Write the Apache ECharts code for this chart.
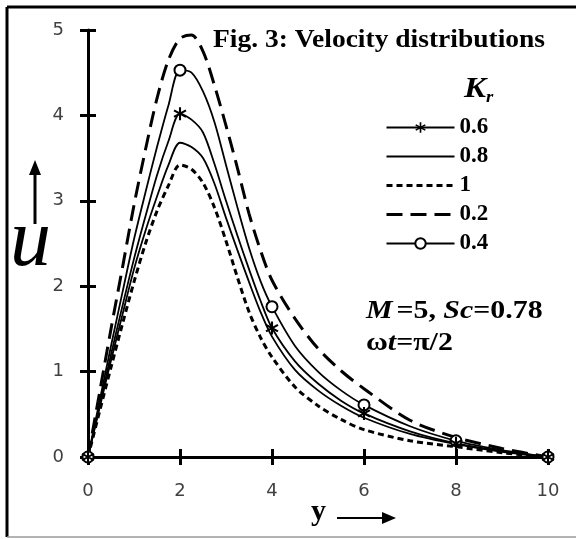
<!DOCTYPE html>
<html>
<head>
<meta charset="utf-8">
<script src="https://cdn.jsdelivr.net/npm/echarts@6/dist/echarts.min.js"></script>
<style>
html, body { margin: 0; padding: 0; background: #fff; }
#chart { width: 576px; height: 539px; }
</style>
</head>
<body>
<div id="chart"></div>
<script>
const yPos = [0, 0.25, 0.5, 0.75, 1, 1.25, 1.5, 1.75, 2, 2.25, 2.5, 2.75, 3, 3.25, 3.5, 3.75, 4,
  4.5, 5, 5.5, 6, 7, 8, 9, 10];
// marker positions (every 2)
const markAt = [0, 2, 4, 6, 8, 10];

// velocity u for each Kr
const kr02 = [0, 0.75, 1.5, 2.22, 2.95, 3.6, 4.2, 4.65, 4.9, 4.94, 4.75, 4.35, 3.88, 3.38, 2.85, 2.42, 2.07,
  1.62, 1.27, 1.01, 0.8, 0.43, 0.23, 0.1, 0];
const kr04 = [0, 0.65, 1.3, 1.93, 2.55, 3.1, 3.63, 4.12, 4.53, 4.5, 4.28, 3.92, 3.42, 2.92, 2.45, 2.06, 1.76,
  1.3, 1.0, 0.78, 0.61, 0.36, 0.19, 0.08, 0];
const kr06 = [0, 0.6, 1.2, 1.77, 2.32, 2.82, 3.3, 3.7, 4.02, 3.95, 3.8, 3.43, 3.0, 2.59, 2.2, 1.83, 1.51,
  1.12, 0.86, 0.66, 0.51, 0.3, 0.16, 0.07, 0];
const kr08 = [0, 0.57, 1.13, 1.67, 2.2, 2.65, 3.05, 3.42, 3.68, 3.63, 3.5, 3.2, 2.8, 2.42, 2.05, 1.7, 1.41,
  1.02, 0.78, 0.6, 0.46, 0.27, 0.15, 0.06, 0];
const kr10 = [0, 0.53, 1.05, 1.56, 2.05, 2.5, 2.88, 3.18, 3.42, 3.37, 3.21, 2.92, 2.53, 2.1, 1.7, 1.4, 1.17,
  0.82, 0.6, 0.44, 0.32, 0.19, 0.12, 0.05, 0];

const xTicks = [0, 2, 4, 6, 8, 10];
const uTicks = [0, 1, 2, 3, 4, 5];

const starPath = 'path://M8.5,0L11.5,0L11.5,20L8.5,20Z M0.59,6.3L2.09,3.7L19.41,13.7L17.91,16.3Z M0.59,13.7L17.91,3.7L19.41,6.3L2.09,16.3Z';

function toData(vals, withMarks) {
  return yPos.map(function (x, i) {
    const item = { value: [x, vals[i]] };
    if (!withMarks || markAt.indexOf(x) < 0) item.symbol = 'none';
    return item;
  });
}

const serifB = 'Liberation Serif';

const myChart = echarts.init(document.getElementById('chart'));

const tickStyle = { color: '#000', width: 3 };

const option = {
  animation: false,
  grid: { left: 88, right: 28, top: 30, bottom: 82 },
  xAxis: [
    {
      type: 'value', min: xTicks[0], max: xTicks[xTicks.length - 1], interval: 2, position: 'bottom',
      axisLine: { onZero: false, lineStyle: { color: '#000', width: 3 } },
      axisTick: { length: 8, lineStyle: tickStyle },
      axisLabel: { margin: 25, fontSize: 18, color: '#404040', fontFamily: 'DejaVu Sans' },
      splitLine: { show: false }
    },
    {
      type: 'value', min: xTicks[0], max: xTicks[xTicks.length - 1], interval: 2, position: 'bottom',
      axisLine: { show: false },
      axisTick: { inside: true, length: 8, lineStyle: tickStyle },
      axisLabel: { show: false },
      splitLine: { show: false }
    }
  ],
  yAxis: [
    {
      type: 'value', min: uTicks[0], max: uTicks[uTicks.length - 1], interval: 1, position: 'left',
      axisLine: { onZero: false, lineStyle: { color: '#000', width: 3 } },
      axisTick: { length: 8, lineStyle: tickStyle },
      axisLabel: { margin: 24, fontSize: 18, color: '#404040', fontFamily: 'DejaVu Sans' },
      splitLine: { show: false }
    },
    {
      type: 'value', min: uTicks[0], max: uTicks[uTicks.length - 1], interval: 1, position: 'left',
      axisLine: { show: false },
      axisTick: { inside: true, length: 8, lineStyle: tickStyle },
      axisLabel: { show: false },
      splitLine: { show: false }
    }
  ],
  legend: {
    orient: 'vertical',
    left: 385,
    top: 116,
    padding: 0,
    itemWidth: 68,
    itemHeight: 13,
    itemGap: 6,
    selectedMode: false,
    textStyle: { fontFamily: serifB, fontWeight: 'bold', fontSize: 23, color: '#000' },
    lineStyle: { width: 'inherit' },
    data: [
      { name: '0.6' },
      { name: '0.8', itemStyle: { opacity: 0 } },
      { name: '1', itemStyle: { opacity: 0 } },
      { name: '0.2', itemStyle: { opacity: 0 } },
      { name: '0.4' }
    ]
  },
  series: [
    {
      name: '0.2', type: 'line', smooth: 0.3, symbol: 'none',
      lineStyle: { color: '#000', width: 3, type: [16, 8] },
      itemStyle: { color: '#000' },
      data: toData(kr02, false)
    },
    {
      name: '0.4', type: 'line', smooth: 0.3, symbol: 'emptyCircle', symbolSize: 11,
      lineStyle: { color: '#000', width: 1.8 },
      itemStyle: { color: '#000', borderWidth: 1.5 },
      data: toData(kr04, true)
    },
    {
      name: '0.6', type: 'line', smooth: 0.3, symbol: starPath, symbolSize: 13,
      lineStyle: { color: '#000', width: 1.8 },
      itemStyle: { color: '#000' },
      data: toData(kr06, true)
    },
    {
      name: '0.8', type: 'line', smooth: 0.3, symbol: 'none',
      lineStyle: { color: '#000', width: 1.8 },
      itemStyle: { color: '#000' },
      data: toData(kr08, false)
    },
    {
      name: '1', type: 'line', smooth: 0.3, symbol: 'none',
      lineStyle: { color: '#000', width: 3, type: [6, 4] },
      itemStyle: { color: '#000' },
      data: toData(kr10, false)
    }
  ],
  graphic: [
    // frame
    { type: 'line', shape: { x1: 7, y1: 7, x2: 576, y2: 7 }, style: { stroke: '#000', lineWidth: 3 } },
    { type: 'line', shape: { x1: 7, y1: 7, x2: 7, y2: 537 }, style: { stroke: '#000', lineWidth: 3 } },
    { type: 'line', shape: { x1: 7, y1: 537, x2: 576, y2: 537 }, style: { stroke: '#9a9a9a', lineWidth: 1.5 } },
    // title
    {
      type: 'text', x: 213, y: 28, scaleX: 1.1,
      style: { text: 'Fig. 3: Velocity distributions', font: 'bold 25px "Liberation Serif"', fill: '#000' }
    },
    // K_r legend header
    {
      type: 'text', x: 464, y: 73, scaleX: 1.1,
      style: {
        text: '{k|K}{r|r}',
        rich: {
          k: { font: 'italic bold 30px "Liberation Serif"', fill: '#000' },
          r: { font: 'italic bold 17px "Liberation Serif"', fill: '#000', padding: [16, 0, 0, 0] }
        }
      }
    },
    // parameters
    {
      type: 'text', x: 366, y: 298, scaleX: 1.15,
      style: {
        text: '{i|M} {b|=5, }{i|Sc}{b|=0.78}',
        rich: {
          i: { font: 'italic bold 26px "Liberation Serif"', fill: '#000' },
          b: { font: 'bold 26px "Liberation Serif"', fill: '#000' }
        }
      }
    },
    {
      type: 'text', x: 366, y: 330, scaleX: 1.15,
      style: {
        text: '{b|ω}{i|t}{b|=π/2}',
        rich: {
          i: { font: 'italic bold 26px "Liberation Serif"', fill: '#000' },
          b: { font: 'bold 26px "Liberation Serif"', fill: '#000' }
        }
      }
    },
    // u axis name with arrow
    {
      type: 'text', x: 10, y: 202,
      style: { text: 'u', font: 'italic 82px "Liberation Serif"', fill: '#000' }
    },
    { type: 'line', shape: { x1: 35, y1: 224, x2: 35, y2: 172 }, style: { stroke: '#000', lineWidth: 3 } },
    { type: 'polygon', shape: { points: [[35, 160], [29, 175], [41, 175]] }, style: { fill: '#000' } },
    // y axis name with arrow
    {
      type: 'text', x: 311, y: 497,
      style: { text: 'y', font: 'bold 30px "Liberation Serif"', fill: '#000' }
    },
    { type: 'line', shape: { x1: 337, y1: 518, x2: 385, y2: 518 }, style: { stroke: '#000', lineWidth: 2 } },
    { type: 'polygon', shape: { points: [[396, 518], [382, 512], [382, 524]] }, style: { fill: '#000' } }
  ]
};

myChart.setOption(option);
</script>
</body>
</html>
